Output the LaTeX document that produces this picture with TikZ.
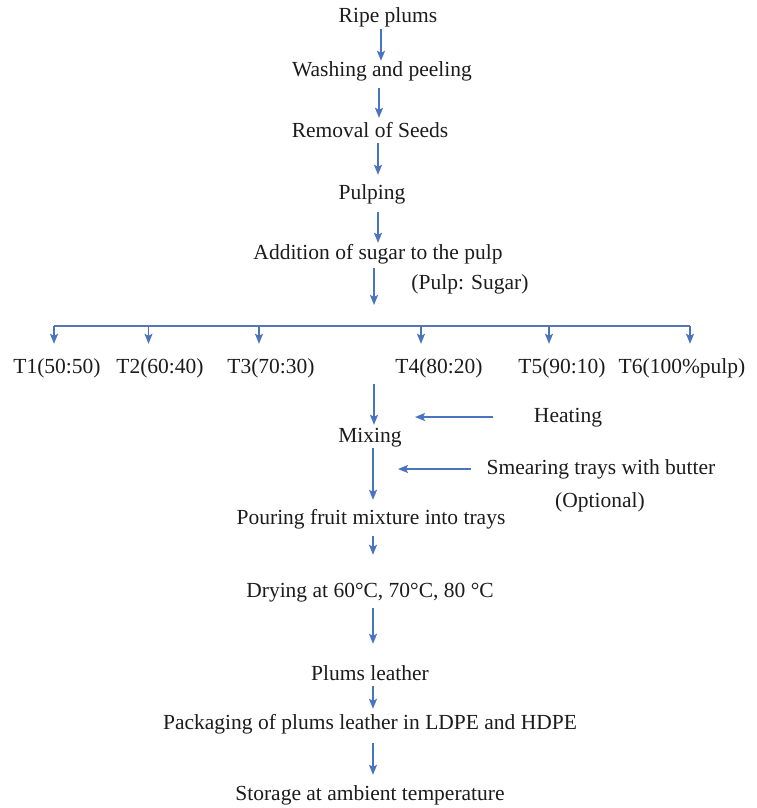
\documentclass[tikz,border=0pt]{standalone}
\usepackage{fontspec}
\setmainfont{Liberation Serif}
\usetikzlibrary{arrows.meta}
\definecolor{arrblue}{HTML}{4A74C0}
\definecolor{txt}{HTML}{1C1C1C}
\tikzset{
  lbl/.style={inner sep=1pt, text height=15pt, text depth=5pt, text=txt, font=\fontsize{21.5}{24}\selectfont},
  arr/.style={draw=arrblue, line width=1.4pt, -{Stealth[length=10pt,width=8pt,inset=2pt]}},
  hline/.style={draw=arrblue!85!gray, line width=1.8pt}
}
\begin{document}
\begin{tikzpicture}[x=1pt,y=-1pt]
\useasboundingbox[fill=white] (0,0) rectangle (756,808);
% main column
\node[lbl] (ripe)   at (388,18)  {Ripe plums};
\node[lbl] (wash)   at (382,72)  {Washing and peeling};
\node[lbl] (remove) at (370,132) {Removal of Seeds};
\node[lbl] (pulp)   at (372,194) {Pulping};
\node[lbl] (add)    at (378,254) {Addition of sugar to the pulp};
\node[lbl] (ratio)  at (470,284) {(Pulp: Sugar)};
% treatments
\node[lbl] (t1) at (57,368)  {T1(50:50)};
\node[lbl] (t2) at (160,368) {T2(60:40)};
\node[lbl] (t3) at (271,368) {T3(70:30)};
\node[lbl] (t4) at (439,368) {T4(80:20)};
\node[lbl] (t5) at (562,368) {T5(90:10)};
\node[lbl] (t6) at (682,368) {T6(100\%pulp)};
% lower column
\node[lbl] (heat)  at (568,417) {Heating};
\node[lbl] (mix)   at (370,437) {Mixing};
\node[lbl] (smear) at (601,469) {Smearing trays with butter};
\node[lbl] (opt)   at (600,502) {(Optional)};
\node[lbl] (pour)  at (371,519) {Pouring fruit mixture into trays};
\node[lbl] (dry)   at (370,592) {Drying at 60°C, 70°C, 80 °C};
\node[lbl] (leath) at (370,675) {Plums leather};
\node[lbl] (pack)  at (370,724) {Packaging of plums leather in LDPE and HDPE};
\node[lbl] (store) at (370,795) {Storage at ambient temperature};
% coordinates
\coordinate (hl) at (374,326);
\coordinate (hlL) at (54,326);
\coordinate (hlR) at (690,326);
\coordinate (d1) at (54,326);
\coordinate (d2) at (148.5,326);
\coordinate (d3) at (259,326);
\coordinate (d4) at (421,326);
\coordinate (d5) at (549,326);
\coordinate (d6) at (690,326);
\coordinate (trow) at (374,384);
\coordinate (heatend) at (415,417);
\coordinate (smearend) at (398,469);
% connectors
\draw[arr] (ripe.south -| 381,0) -- (wash.north -| 381,0);
\draw[arr, shorten <=5pt, shorten >=3pt] (wash.south -| 379,0) -- (remove.north -| 379,0);
\draw[arr, shorten >=8pt] (remove.south -| 378,0) -- (pulp.north -| 378,0);
\draw[arr, shorten <=7pt] (pulp.south -| 378,0) -- (add.north -| 378,0);
\draw[arr, shorten <=3pt, shorten >=21pt] (add.south -| 374,0) -- (hl);
\draw[hline] (hlL) -- (hlR);
\draw[arr, shorten >=13pt] (d1) -- (t1.north -| d1);
\draw[arr, shorten >=13pt] (d2) -- (t2.north -| d2);
\draw[arr, shorten >=13pt] (d3) -- (t3.north -| d3);
\draw[arr, shorten >=13pt] (d4) -- (t4.north -| d4);
\draw[arr, shorten >=13pt] (d5) -- (t5.north -| d5);
\draw[arr, shorten >=13pt] (d6) -- (t6.north -| d6);
\draw[arr, shorten >=1pt] (trow) -- (mix.north -| trow);
\draw[arr, shorten <=40pt] (heat.west) -- (heatend);
\draw[arr, shorten >=8pt] (mix.south -| 373,0) -- (pour.north -| 373,0);
\draw[arr, shorten <=14pt] (smear.west) -- (smearend);
\draw[arr, shorten <=6pt, shorten >=26pt] (pour.south -| 373,0) -- (dry.north -| 373,0);
\draw[arr, shorten <=5pt, shorten >=20pt] (dry.south -| 373,0) -- (leath.north -| 373,0);
\draw[arr, shorten <=0pt, shorten >=4pt] (leath.south -| 373,0) -- (pack.north -| 373,0);
\draw[arr, shorten <=8pt, shorten >=9pt] (pack.south -| 373,0) -- (store.north -| 373,0);
\end{tikzpicture}
\end{document}
